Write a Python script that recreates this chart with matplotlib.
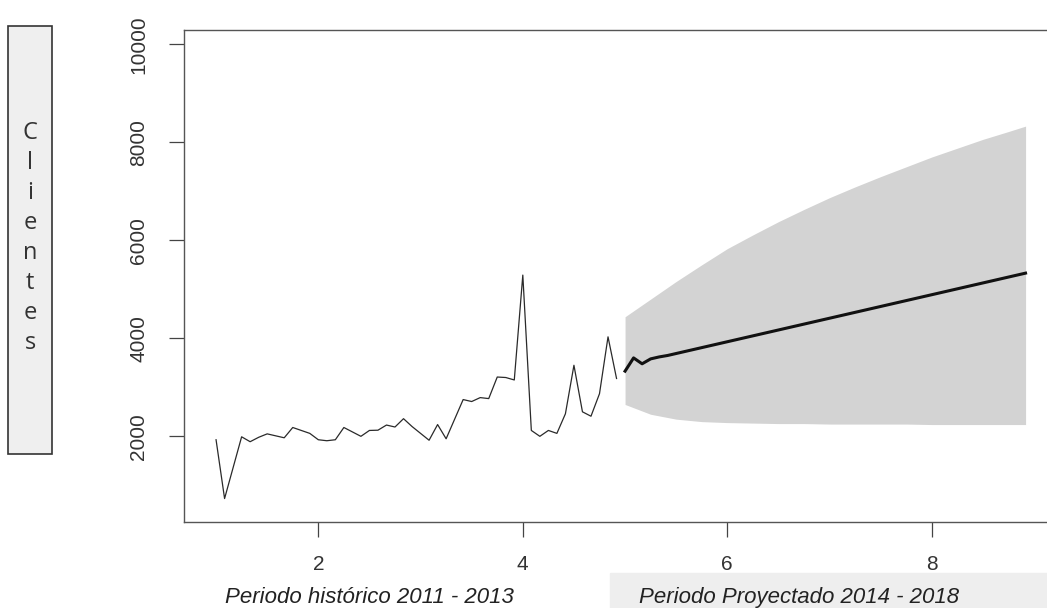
import matplotlib.pyplot as plt
from matplotlib.patches import Rectangle

# serie historica mensual (2011 - 2013), eje en "periodos"
hist_x = [1 + i / 12 for i in range(48)]
hist_y = [1930, 730, 1360, 1990, 1890, 1980, 2050, 2010, 1970, 2180, 2120, 2060,
          1930, 1910, 1930, 2180, 2090, 2000, 2120, 2125, 2230, 2190, 2360, 2200,
          2060, 1920, 2240, 1950, 2350, 2750, 2710, 2790, 2770, 3210, 3200, 3150,
          5290, 2120, 2000, 2120, 2060, 2460, 3450, 2500, 2410, 2870, 4030, 3180]

# pronostico (2014 - 2018)
fc_x = [5 + j / 12 for j in range(48)]
fc_y = [3330, 3600, 3480, 3580, 3620, 3650, 3690, 3730, 3770, 3810, 3850, 3890,
        3930, 3970, 4010, 4050, 4090, 4130, 4170, 4210, 4250, 4290, 4330, 4370,
        4410, 4450, 4490, 4530, 4570, 4610, 4650, 4690, 4730, 4770, 4810, 4850,
        4890, 4930, 4970, 5010, 5050, 5090, 5130, 5170, 5210, 5250, 5290, 5330]

# intervalo de confianza
band_x = [5.0, 5.25, 5.5, 5.75, 6.0, 6.25, 6.5, 6.75, 7.0, 7.25, 7.5, 7.75,
          8.0, 8.25, 8.5, 8.75, 8.917]
band_hi = [4440, 4800, 5160, 5500, 5830, 6110, 6380, 6630, 6870, 7090, 7300,
           7500, 7700, 7880, 8060, 8220, 8330]
band_lo = [2650, 2450, 2350, 2300, 2280, 2270, 2260, 2260, 2250, 2250, 2250,
           2250, 2240, 2240, 2240, 2240, 2240]

x_ticks = [2, 4, 6, 8]
y_ticks = [2000, 4000, 6000, 8000, 10000]
label_hist = 'Periodo histórico 2011 - 2013'
label_proj = 'Periodo Proyectado 2014 - 2018'
label_y = 'Clientes'

plt.rcParams['font.family'] = ['Liberation Sans', 'DejaVu Sans']

fig = plt.figure(figsize=(10.47, 6.08), dpi=100)
ax = fig.add_axes([0.1754, 0.1414, 0.835, 0.8093])

# fondo gris muy claro detras del texto del periodo proyectado (como en el original)
fig.patches.append(Rectangle((610 / 1047, 0), 437 / 1047, 35 / 608,
                             transform=fig.transFigure, color='#eeeeee', zorder=0))

ax.fill_between(band_x, band_lo, band_hi, color='#d3d3d3', linewidth=0)
ax.plot(hist_x, hist_y, color='#2a2a2a', linewidth=0.9)
ax.plot(fc_x, fc_y, color='#111111', linewidth=2.2)

ax.set_xlim(0.683, 9.233)
ax.set_ylim(251, 10292)
ax.set_xticks(x_ticks)
ax.set_yticks(y_ticks)
ax.set_xticklabels([str(t) for t in x_ticks])
ax.set_yticklabels([str(t) for t in y_ticks], rotation=90, va='center')
ax.tick_params(axis='both', length=10.5, width=0.9, color='#444444',
               labelsize=15, labelcolor='#333333')
ax.tick_params(axis='x', pad=13)
ax.tick_params(axis='y', pad=15)
ax.spines['right'].set_visible(False)
for s in ['left', 'bottom', 'top']:
    ax.spines[s].set_color('#555555')
    ax.spines[s].set_linewidth(1.0)

fig.text(369 / 1047, 1 - 603 / 608, label_hist, ha='center', va='baseline',
         fontsize=16, style='italic', color='#222222')
fig.text(799 / 1047, 1 - 603 / 608, label_proj, ha='center', va='baseline',
         fontsize=16, style='italic', color='#222222')

# caja vertical con "Clientes"
fig.patches.append(Rectangle((8 / 1047, 1 - 454 / 608), 44 / 1047, 428 / 608,
                             transform=fig.transFigure, facecolor='#efefef',
                             edgecolor='#333333', linewidth=1.2))
fig.text(30 / 1047, 1 - 238 / 608, '\n'.join(label_y), ha='center', va='center',
         fontsize=17, color='#333333', linespacing=1.34, family=['Open Sans', 'DejaVu Sans'])

fig.savefig('out.png', dpi=100)
